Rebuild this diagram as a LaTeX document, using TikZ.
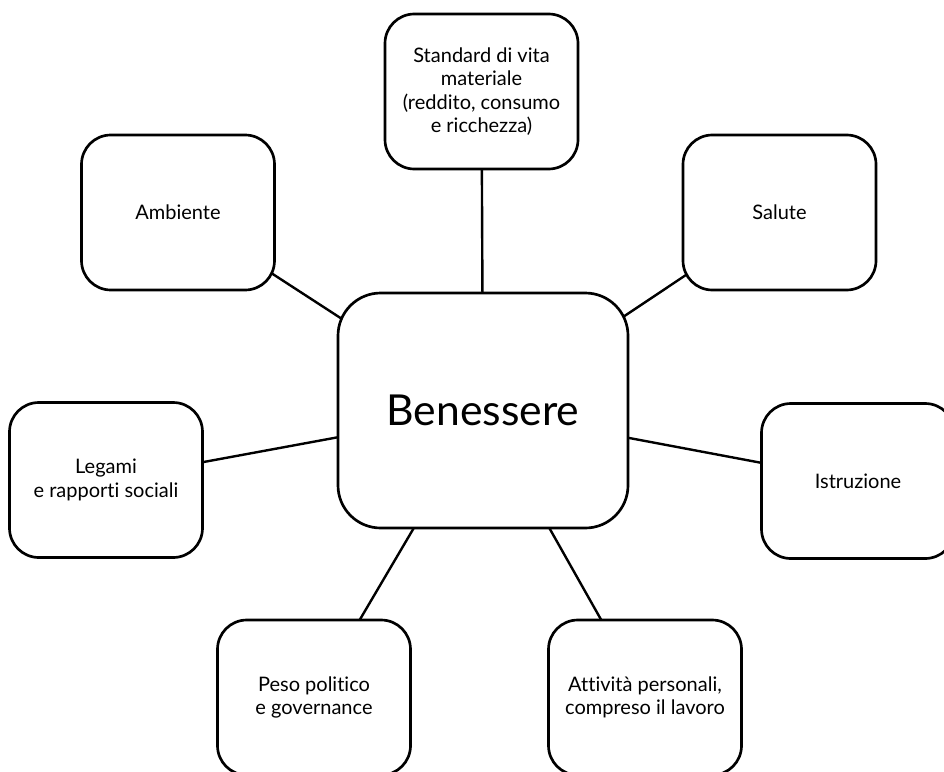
\documentclass[tikz,border=0pt]{standalone}
\usepackage{fontspec}
\setmainfont{Lato}[Ligatures=NoCommon]
\usetikzlibrary{backgrounds}

\begin{document}
\begin{tikzpicture}[
		x=0.75pt, y=-0.75pt,
		every node/.style={rectangle, draw, line width=2pt, fill=white, align=center,
			rounded corners=22pt, minimum width=144.75pt, minimum height=116.25pt,
			font=\fontsize{15}{17.5}\selectfont},
		link/.style={line width=1.8pt}
	]
  \useasboundingbox (0,0) rectangle (944,771);
  \clip (0,0) rectangle (944,771);
  \node (ben) [rounded corners=32pt, minimum width=217.5pt, minimum height=176.25pt,
  	font=\fontsize{32}{38}\selectfont] at (483,410.5) {Benessere};
  \node (std) at (481.5,91.5) {Standard di vita\\materiale\\(reddito, consumo\\e ricchezza)};
  \node (amb) at (178,212.5) {Ambiente};
  \node (sal) at (779.5,212.5) {Salute};
  \node (leg) at (106,480) {Legami\\e rapporti sociali};
  \node (ist) at (858,481) {Istruzione};
  \node (pes) at (314,697.5) {Peso politico\\e governance};
  \node (att) at (645,697.5) {Attività personali,\\compreso il lavoro};
  \begin{pgfonlayer}{background}
    \draw[link] (ben.center) -- (std.center);
    \draw[link] (ben.center) -- (amb.center);
    \draw[link] (ben.center) -- (sal.center);
    \draw[link] (ben.center) -- (leg.center);
    \draw[link] (ben.center) -- (ist.center);
    \draw[link] (ben.center) -- (pes.center);
    \draw[link] (ben.center) -- (att.center);
  \end{pgfonlayer}
\end{tikzpicture}
\end{document}
